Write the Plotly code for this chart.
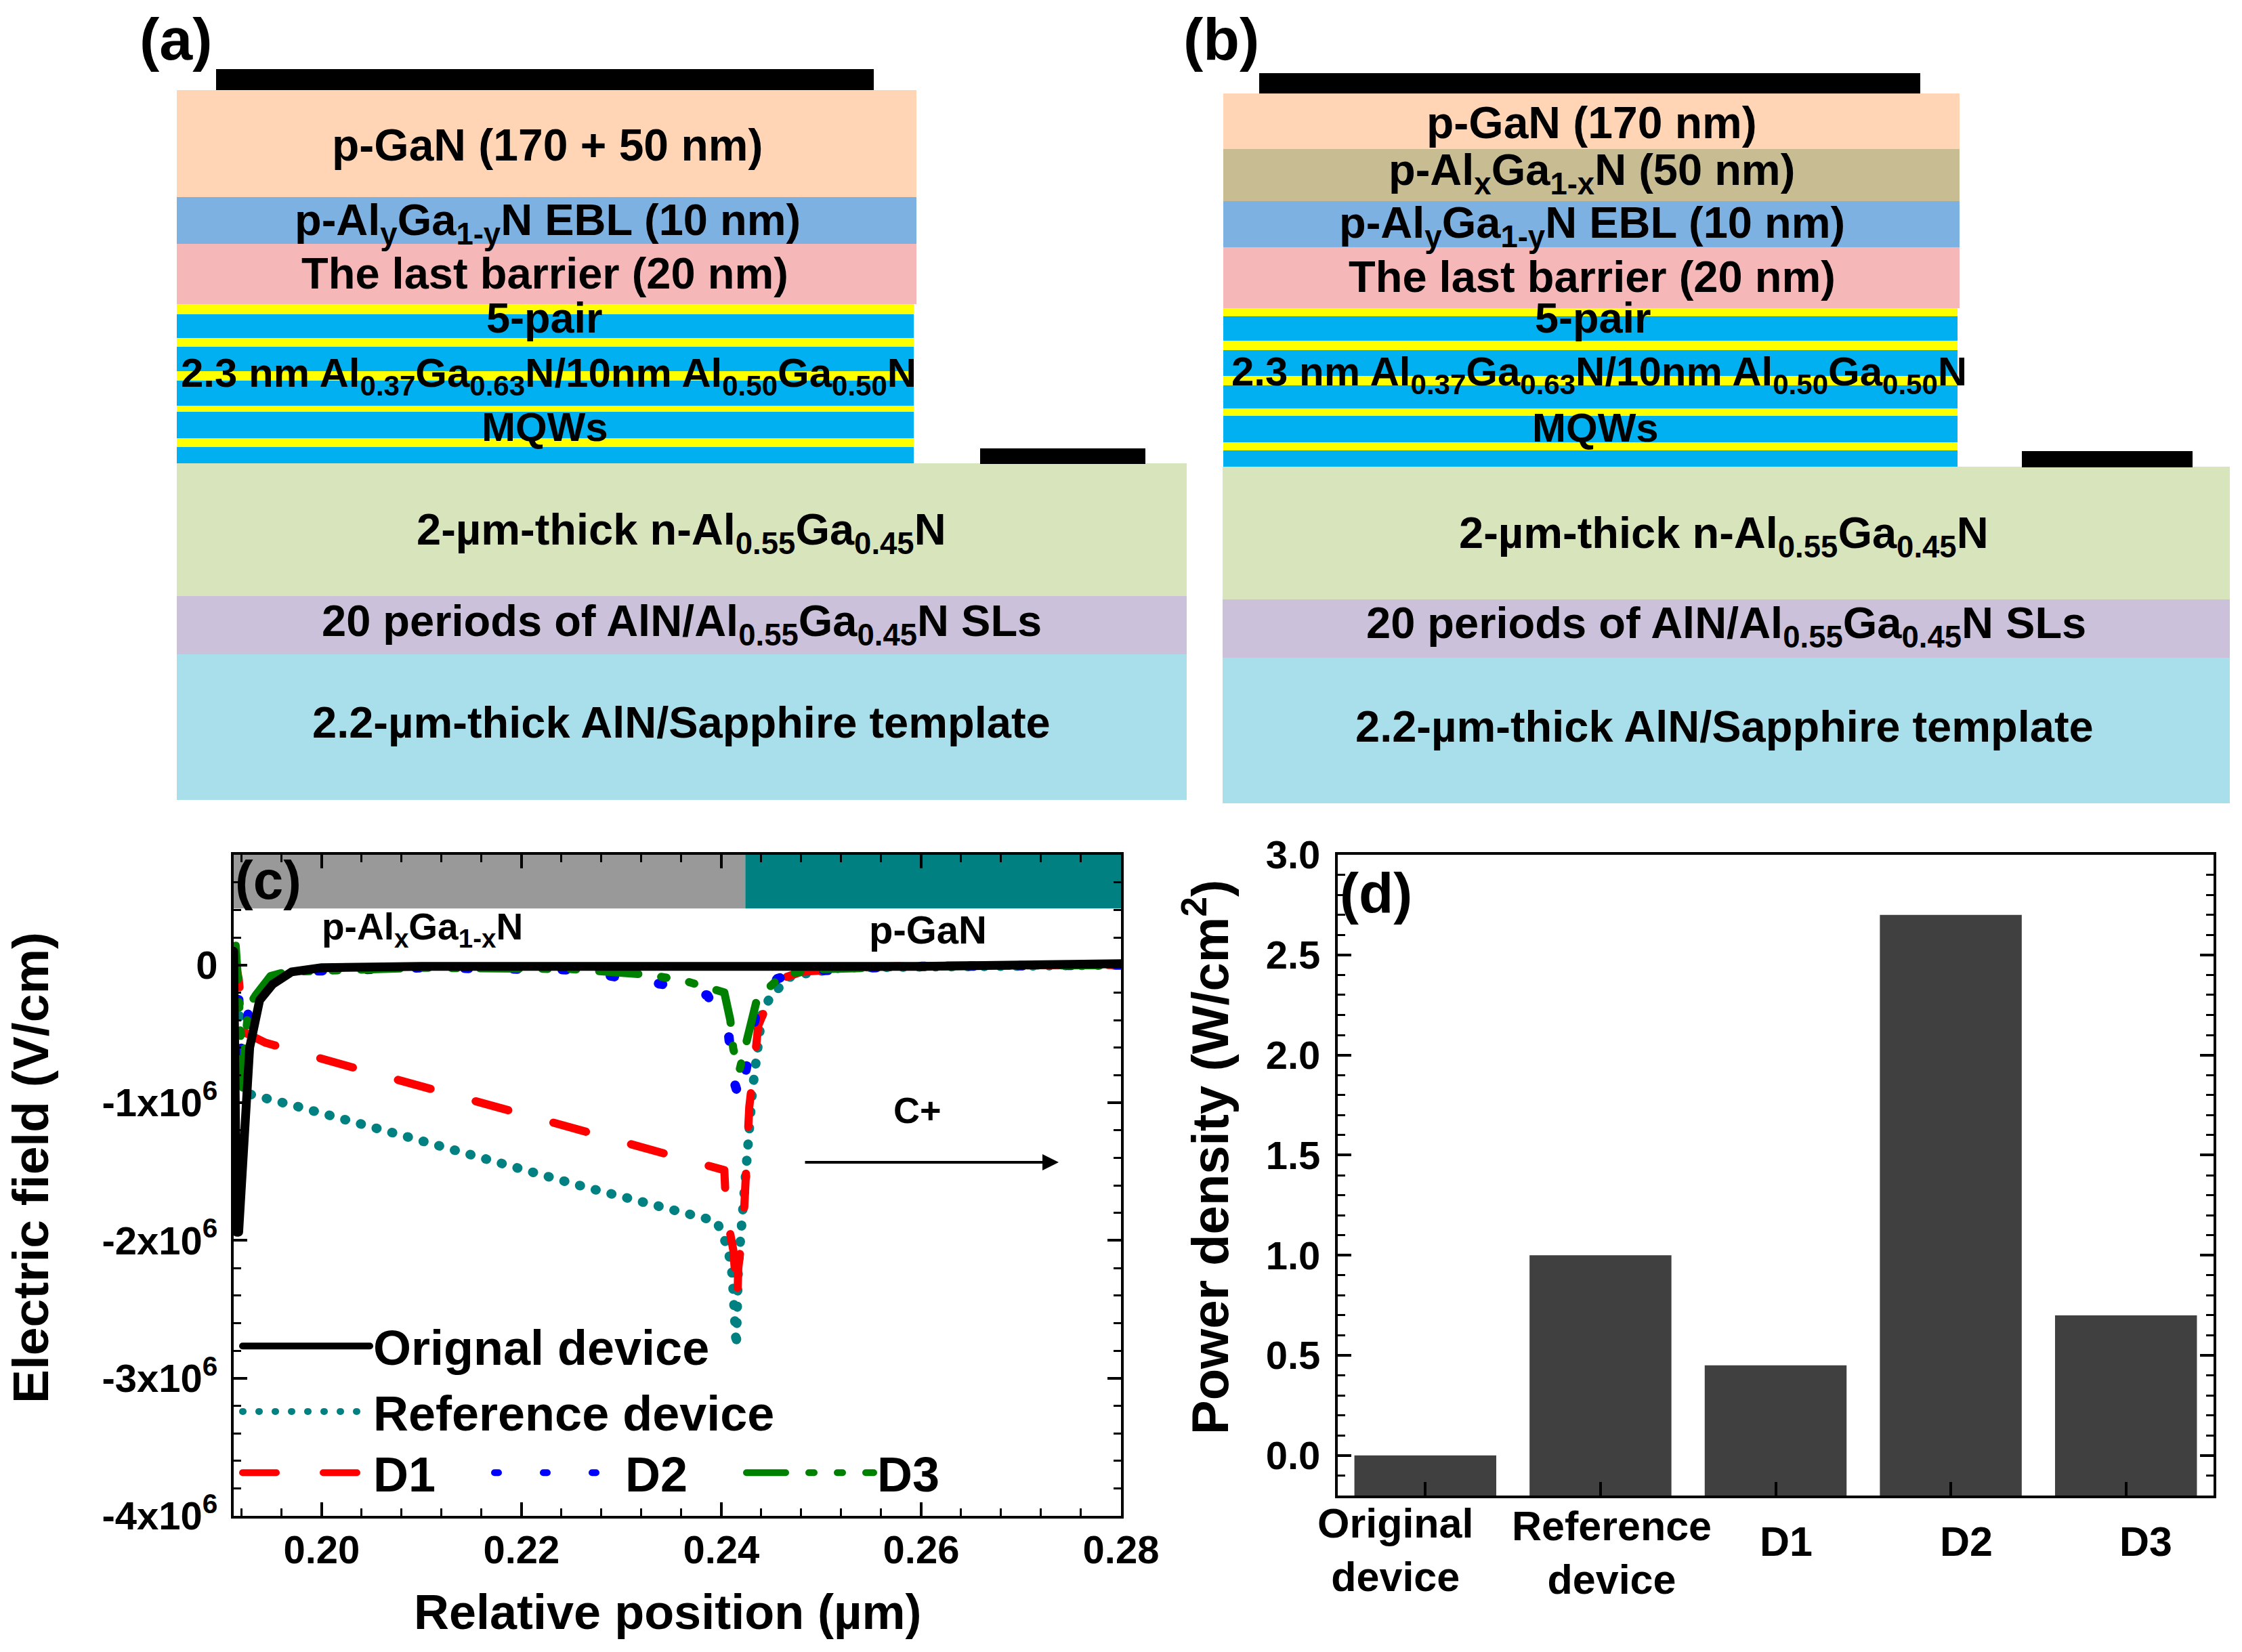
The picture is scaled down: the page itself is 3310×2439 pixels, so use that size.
import plotly.graph_objects as go

W, H = 3310, 2439
FONT = "Liberation Sans"

# ---------- panel (c) data ----------
ref_x = [0.1912, 0.1915, 0.1918, 0.1923, 0.1929, 0.1972, 0.2028, 0.2082, 0.2266, 0.2395, 0.2401, 0.2407, 0.2411, 0.2413, 0.2415, 0.2417, 0.2423, 0.2424, 0.2428, 0.2431, 0.2433, 0.2441, 0.2450, 0.2470, 0.2520, 0.2600, 0.2800]
ref_y = [0.10e6, -0.10e6, -0.40e6, -0.90e6, -0.94e6, -1.02e6, -1.14e6, -1.24e6, -1.617e6, -1.86e6, -1.95e6, -2.07e6, -2.25e6, -2.45e6, -2.77e6, -2.19e6, -1.62e6, -1.45e6, -1.03e6, -0.92e6, -0.80e6, -0.34e6, -0.22e6, -0.08e6, -0.02e6, -0.01e6, 0.0]
d1_x = [0.1912, 0.1917, 0.1919, 0.1920, 0.1944, 0.1985, 0.2024, 0.2222, 0.2364, 0.2403, 0.2405, 0.2412, 0.2416, 0.2417, 0.2422, 0.2424, 0.2426, 0.2428, 0.2433, 0.2437, 0.2456, 0.2480, 0.2550, 0.2600, 0.2800]
d1_y = [0.08e6, -0.10e6, -0.25e6, -0.48e6, -0.565e6, -0.65e6, -0.73e6, -1.125e6, -1.405e6, -1.49e6, -1.80e6, -2.07e6, -2.44e6, -2.20e6, -1.90e6, -1.62e6, -1.26e6, -1.03e6, -0.72e6, -0.44e6, -0.11e6, -0.05e6, -0.015e6, -0.005e6, 0.0]
d2_x = [0.1912, 0.1917, 0.1921, 0.1923, 0.1927, 0.1934, 0.1949, 0.1964, 0.2100, 0.2250, 0.2341, 0.2386, 0.2407, 0.2412, 0.2419, 0.2428, 0.2436, 0.2456, 0.2480, 0.2550, 0.2600, 0.2800]
d2_y = [0.10e6, -0.25e6, -0.85e6, -0.60e6, -0.30e6, -0.20e6, -0.09e6, -0.05e6, -0.02e6, -0.035e6, -0.14e6, -0.22e6, -0.48e6, -0.83e6, -0.99e6, -0.63e6, -0.30e6, -0.10e6, -0.05e6, -0.02e6, -0.01e6, 0.0]
d3_x = [0.1912, 0.1914, 0.1917, 0.1921, 0.1923, 0.1927, 0.1934, 0.1949, 0.1964, 0.2100, 0.2250, 0.2325, 0.2361, 0.2388, 0.2403, 0.2409, 0.2412, 0.2418, 0.2428, 0.2436, 0.2462, 0.2500, 0.2600, 0.2800]
d3_y = [0.10e6, 0.14e6, -0.19e6, -0.89e6, -0.60e6, -0.30e6, -0.22e6, -0.08e6, -0.05e6, -0.02e6, -0.03e6, -0.07e6, -0.11e6, -0.16e6, -0.20e6, -0.40e6, -0.61e6, -0.77e6, -0.44e6, -0.24e6, -0.07e6, -0.03e6, -0.01e6, 0.0]
orig_x = [0.1912, 0.1913, 0.1915, 0.1917, 0.1921, 0.1925, 0.1928, 0.1938, 0.1951, 0.1970, 0.2000, 0.2100, 0.2400, 0.2600, 0.2800]
orig_y = [0.10e6, -1.00e6, -1.94e6, -1.94e6, -1.50e6, -0.92e6, -0.60e6, -0.255e6, -0.14e6, -0.05e6, -0.02e6, -0.01e6, -0.01e6, -0.01e6, 0.01e6]

c_y_ticks = [0, -1e6, -2e6, -3e6, -4e6]
c_y_labels = ["0", "-1x10<sup>6</sup>", "-2x10<sup>6</sup>", "-3x10<sup>6</sup>", "-4x10<sup>6</sup>"]
c_x_ticks = [0.20, 0.22, 0.24, 0.26, 0.28]

# ---------- panel (d) data ----------
devices = ["Original<br>device", "Reference<br>device", "D1", "D2", "D3"]
power = [0.0, 1.0, 0.45, 2.7, 0.7]
bar_floor = -0.2


def px(x):
    return x / W


def py(y):
    return 1 - y / H


shapes = []
ann = []


def rect(x0, y0, x1, y1, color):
    shapes.append(dict(type="rect", xref="paper", yref="paper", x0=px(x0), x1=px(x1),
                       y0=py(y1), y1=py(y0), fillcolor=color, line=dict(width=0), layer="below"))


def text(x, y, s, size=65, angle=0):
    ann.append(dict(xref="paper", yref="paper", x=px(x), y=py(y), text=f"<b>{s}</b>",
                    showarrow=False, xanchor="center", yanchor="middle", textangle=angle,
                    font=dict(family=FONT, size=size, color="black")))


PEACH, TAN, EBL, BARRIER = "#FFD5B5", "#C8BC92", "#7DB1E2", "#F5B7B8"
YEL, BLUE, GRN, PUR, AQUA = "#FFFF00", "#00B0F0", "#D7E4BC", "#CCC1DA", "#A8DFEA"

# panel (a)
rect(319, 102, 1290, 133, "#000000")
rect(261, 133, 1353, 291, PEACH)
rect(261, 291, 1353, 360, EBL)
rect(261, 360, 1353, 449, BARRIER)
a_edges = [449, 464, 499, 512, 548, 562, 599, 608, 647, 660, 685]
for i in range(len(a_edges) - 1):
    rect(261, a_edges[i], 1349, a_edges[i + 1], YEL if i % 2 == 0 else BLUE)
rect(261, 684, 1752, 880, GRN)
rect(261, 880, 1752, 966, PUR)
rect(261, 966, 1752, 1181, AQUA)
rect(1447, 662, 1691, 685, "#000000")

# panel (b)
rect(1859, 108, 2835, 138, "#000000")
rect(1806, 138, 2893, 220, PEACH)
rect(1806, 220, 2893, 297, TAN)
rect(1806, 297, 2893, 365, EBL)
rect(1806, 365, 2893, 455, BARRIER)
b_edges = [455, 467, 503, 517, 555, 569, 603, 614, 653, 665, 690]
for i in range(len(b_edges) - 1):
    rect(1806, b_edges[i], 2890, b_edges[i + 1], YEL if i % 2 == 0 else BLUE)
rect(1805, 689, 3292, 885, GRN)
rect(1805, 885, 3292, 971, PUR)
rect(1805, 971, 3292, 1186, AQUA)
rect(2985, 666, 3237, 690, "#000000")

MQW_LABEL = "2.3 nm Al<sub>0.37</sub>Ga<sub>0.63</sub>N/10nm Al<sub>0.50</sub>Ga<sub>0.50</sub>N"
N_LABEL = "2-µm-thick n-Al<sub>0.55</sub>Ga<sub>0.45</sub>N"
SL_LABEL = "20 periods of AlN/Al<sub>0.55</sub>Ga<sub>0.45</sub>N SLs"
ALN_LABEL = "2.2-µm-thick AlN/Sapphire template"
EBL_LABEL = "p-Al<sub>y</sub>Ga<sub>1-y</sub>N EBL (10 nm)"
LB_LABEL = "The last barrier (20 nm)"

text(260, 57, "(a)", 88)
text(808, 214, "p-GaN (170 + 50 nm)", 66)
text(808, 330, EBL_LABEL)
text(804, 404, LB_LABEL)
text(804, 469, "5-pair", 63)
text(810, 555, MQW_LABEL, 60)
text(804, 630, "MQWs", 60)
text(1006, 786, N_LABEL, 65)
text(1006, 921, SL_LABEL, 65)
text(1006, 1066, ALN_LABEL, 65)

text(1803, 57, "(b)", 88)
text(2350, 181, "p-GaN (170 nm)", 66)
text(2350, 255, "p-Al<sub>x</sub>Ga<sub>1-x</sub>N (50 nm)", 65)
text(2350, 333, EBL_LABEL)
text(2350, 409, LB_LABEL)
text(2352, 469, "5-pair", 63)
text(2361, 553, MQW_LABEL, 60)
text(2355, 631, "MQWs", 60)
text(2545, 791, N_LABEL, 65)
text(2548, 925, SL_LABEL, 65)
text(2546, 1072, ALN_LABEL, 65)

# panel (c) labels
text(396, 1299, "(c)", 80)
text(623, 1372, "p-Al<sub>x</sub>Ga<sub>1-x</sub>N", 55)
text(1370, 1372, "p-GaN", 58)
text(1354, 1639, "C+", 54)
ann.append(dict(xref="paper", yref="paper", axref="pixel", ayref="pixel", x=px(1563), y=py(1716),
                ax=-376, ay=0, text="", showarrow=True, arrowhead=2, arrowsize=1.2, arrowwidth=4, arrowcolor="black"))
text(45, 1724, "Electric field (V/cm)", 75, -90)
text(986, 2380, "Relative position (µm)", 72)

# panel (d) labels
text(2031, 1319, "(d)", 84)
text(1781, 1709, "Power density (W/cm<sup>2</sup>)", 76, -90)
label_shift = [-44, 17, 15, 23, 29]
label_y = [2288, 2292, 2276, 2276, 2276]
for i, name in enumerate(devices):
    ann.append(dict(xref="x2", yref="paper", x=i, y=py(label_y[i]), xshift=label_shift[i], text=f"<b>{name}</b>",
                    showarrow=False, xanchor="center", yanchor="middle",
                    font=dict(family=FONT, size=61, color="black")))

# bands in panel (c)
shapes.append(dict(type="rect", xref="x", yref="y", x0=0.1912, x1=0.2424, y0=0.41e6, y1=0.8e6,
                   fillcolor="#999999", line=dict(width=0), layer="below"))
shapes.append(dict(type="rect", xref="x", yref="y", x0=0.2424, x1=0.28, y0=0.41e6, y1=0.8e6,
                   fillcolor="#008080", line=dict(width=0), layer="below"))

fig = go.Figure()
LW = 12
fig.add_trace(go.Scatter(x=ref_x, y=ref_y, mode="lines", name="Reference device", legend="legend", legendrank=2,
                         line=dict(color="#008080", width=14, dash="1px 23px")))
fig.add_trace(go.Scatter(x=d1_x, y=d1_y, mode="lines", name="D1", legend="legend2", legendrank=1,
                         line=dict(color="#FF0000", width=LW, dash="50px 69px")))
fig.add_trace(go.Scatter(x=d2_x, y=d2_y, mode="lines", name="D2", legend="legend2", legendrank=2,
                         line=dict(color="#0000FF", width=14, dash="6px 66px")))
fig.add_trace(go.Scatter(x=d3_x, y=d3_y, mode="lines", name="D3", legend="legend2", legendrank=3,
                         line=dict(color="#008000", width=LW, dash="58px 34px 8px 34px 8px 34px")))
fig.add_trace(go.Scatter(x=orig_x, y=orig_y, mode="lines", name="Orignal device", legend="legend", legendrank=1,
                         line=dict(color="#000000", width=13)))
fig.add_trace(go.Bar(x=list(range(len(devices))), y=[v - bar_floor for v in power], base=bar_floor,
                     xaxis="x2", yaxis="y2", marker=dict(color="#404040", line=dict(width=0)),
                     width=0.81, showlegend=False))

axis_font = dict(family=FONT, size=58, color="black", weight="bold")
common = dict(showline=True, linecolor="black", linewidth=4, showgrid=False, zeroline=False,
              ticks="inside", tickcolor="black", tickwidth=4, ticklen=20, tickfont=axis_font)


def minor(dtick, tick0=0):
    return dict(ticks="inside", dtick=dtick, tick0=tick0, ticklen=11, tickwidth=3, tickcolor="black", showgrid=False)


fig.update_layout(
    width=W, height=H, margin=dict(l=0, r=0, t=0, b=0, pad=0, autoexpand=False),
    paper_bgcolor="white", plot_bgcolor="rgba(0,0,0,0)", font=dict(family=FONT, color="black"),
    barmode="overlay", shapes=shapes, annotations=ann,
    xaxis=dict(domain=[px(345), px(1655)], anchor="y", range=[0.1912, 0.28], mirror="allticks",
               tickvals=c_x_ticks, ticktext=[f"{v:.2f}" for v in c_x_ticks], minor=minor(0.004), ticklabelstandoff=-4, **common),
    yaxis=dict(domain=[py(2238), py(1262)], anchor="x", range=[-4e6, 0.8e6], mirror="allticks",
               tickvals=c_y_ticks, ticktext=c_y_labels, minor=minor(2e5), ticklabelstandoff=8, **common),
    xaxis2=dict(domain=[px(1975), px(3268)], anchor="y2", range=[-0.5, 4.5], mirror=True,
                tickvals=list(range(len(devices))), showticklabels=False, **{k: v for k, v in common.items() if k != "tickfont"}),
    yaxis2=dict(domain=[py(2208), py(1262)], anchor="x2", range=[-0.2, 3.0], mirror="allticks",
                tick0=0, dtick=0.5, tickformat=".1f", minor=minor(0.1), ticklabelstandoff=10, **common),
    legend=dict(x=px(353), y=py(1934), xanchor="left", yanchor="top", bgcolor="rgba(0,0,0,0)", itemwidth=188,
                font=dict(family=FONT, size=72, color="black", weight="bold"), orientation="v", traceorder="normal",
                itemclick=False, itemdoubleclick=False),
    legend2=dict(x=px(353), y=py(2121), xanchor="left", yanchor="top", bgcolor="rgba(0,0,0,0)", itemwidth=188,
                 font=dict(family=FONT, size=72, color="black", weight="bold"), orientation="h", entrywidth=169,
                 entrywidthmode="pixels", traceorder="normal", itemclick=False, itemdoubleclick=False),
)

post = ("var s=document.createElement('style');"
        "s.textContent='.js-line,.legendlines path,path.js-line{stroke-linecap:round !important;stroke-linejoin:round;}';"
        "document.head.appendChild(s);document.body.style.margin='0';")
fig.write_html("out.html", post_script=post, config={"displayModeBar": False})
